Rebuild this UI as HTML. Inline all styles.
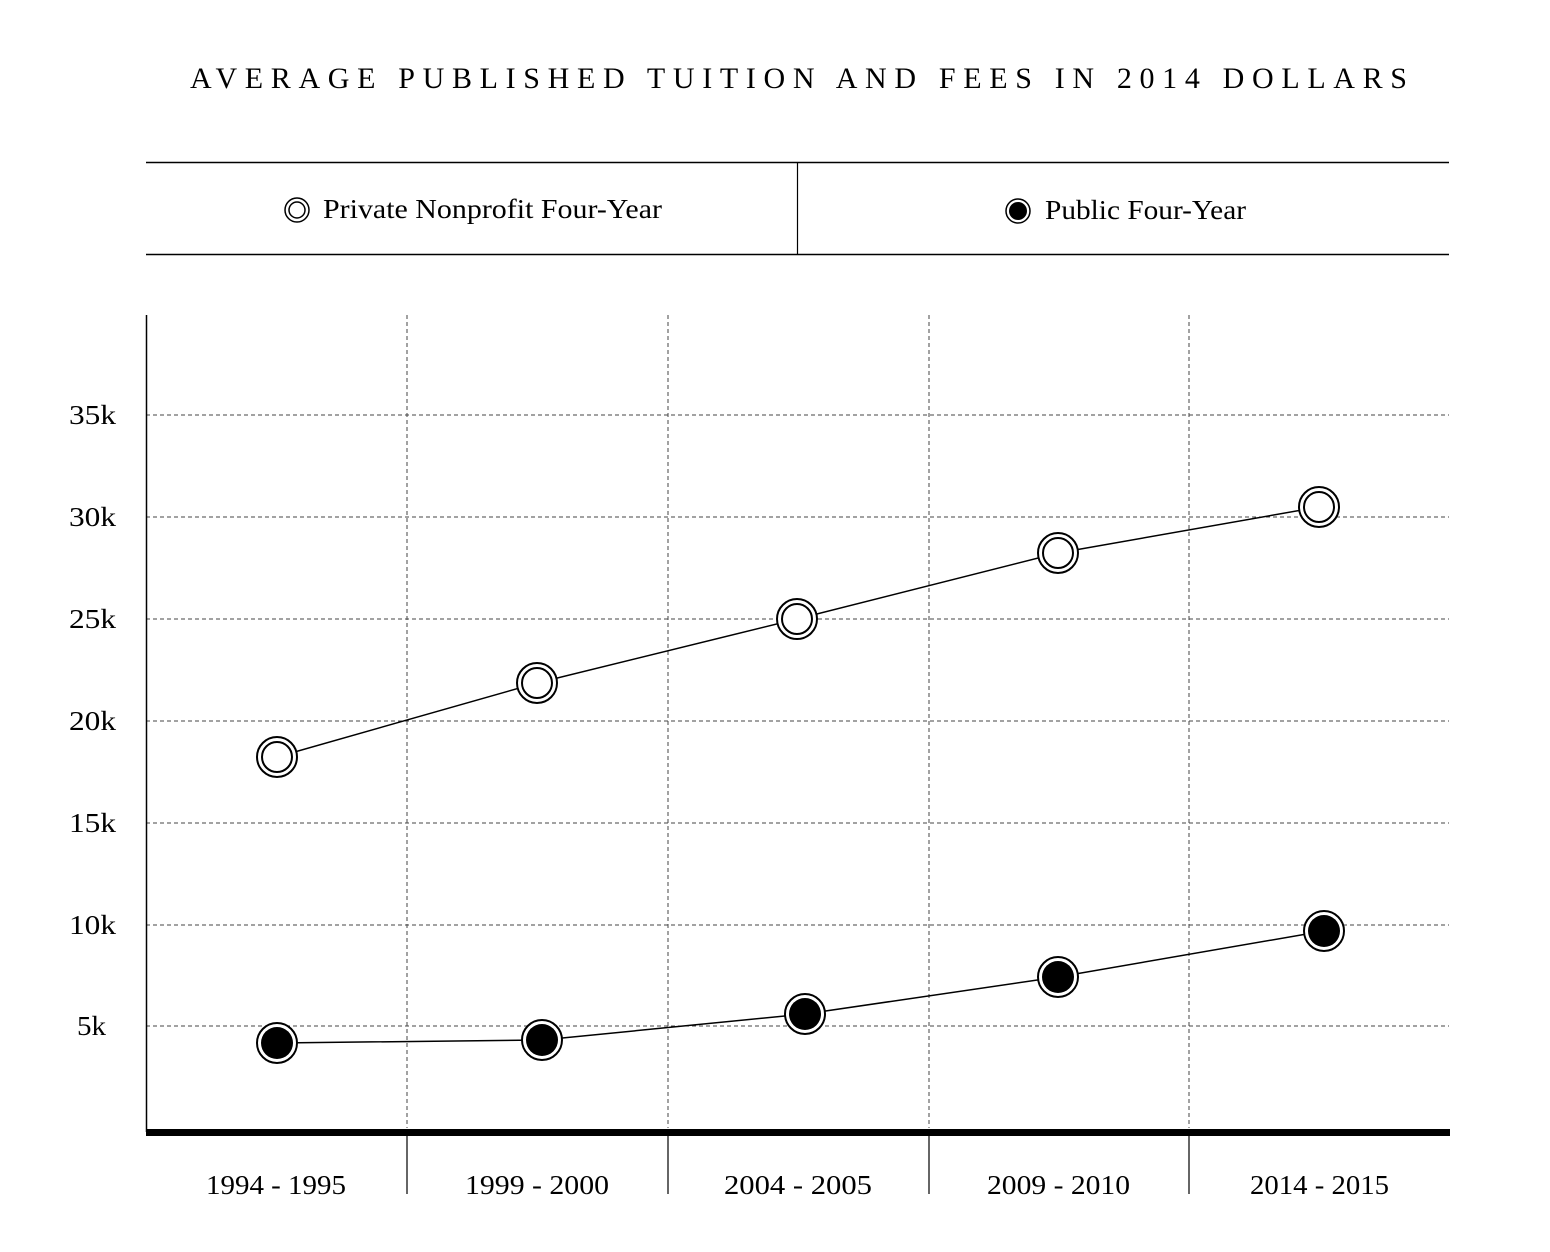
<!DOCTYPE html>
<html><head><style>
body{margin:0;background:#fff;}
svg{display:block;font-family:"Liberation Serif",serif;}
</style></head><body>
<svg width="1550" height="1252" viewBox="0 0 1550 1252" xmlns="http://www.w3.org/2000/svg">
<text x="190" y="88" font-size="30" textLength="1217" lengthAdjust="spacing" fill="#000">AVERAGE PUBLISHED TUITION AND FEES IN 2014 DOLLARS</text>
<line x1="146" y1="162.5" x2="1449" y2="162.5" stroke="#000" stroke-width="1.5"/>
<line x1="146" y1="254.5" x2="1449" y2="254.5" stroke="#000" stroke-width="1.5"/>
<line x1="797.5" y1="162" x2="797.5" y2="255" stroke="#000" stroke-width="1.2"/>
<circle cx="297" cy="210" r="12" fill="#fff" stroke="#000" stroke-width="1.5"/>
<circle cx="297" cy="210" r="8" fill="#fff" stroke="#000" stroke-width="1.5"/>
<text x="323" y="218" font-size="27" textLength="339" lengthAdjust="spacingAndGlyphs">Private Nonprofit Four-Year</text>
<circle cx="1018" cy="211" r="12" fill="#fff" stroke="#000" stroke-width="1.5"/>
<circle cx="1018" cy="211" r="9" fill="#000"/>
<text x="1045" y="219" font-size="27" textLength="201" lengthAdjust="spacingAndGlyphs">Public Four-Year</text>
<g stroke="#444" stroke-width="1" stroke-dasharray="4,3">
<line x1="146" y1="415" x2="1449" y2="415"/>
<line x1="146" y1="517" x2="1449" y2="517"/>
<line x1="146" y1="619" x2="1449" y2="619"/>
<line x1="146" y1="721" x2="1449" y2="721"/>
<line x1="146" y1="823" x2="1449" y2="823"/>
<line x1="146" y1="925" x2="1449" y2="925"/>
<line x1="146" y1="1026" x2="1449" y2="1026"/>
<line x1="407" y1="315" x2="407" y2="1128"/>
<line x1="668" y1="315" x2="668" y2="1128"/>
<line x1="929" y1="315" x2="929" y2="1128"/>
<line x1="1189" y1="315" x2="1189" y2="1128"/>
</g>
<line x1="146.5" y1="315" x2="146.5" y2="1132" stroke="#000" stroke-width="1.5"/>
<rect x="146" y="1129" width="1304" height="7" fill="#000"/>
<g stroke="#000" stroke-width="1.2">
<line x1="407" y1="1135" x2="407" y2="1194"/>
<line x1="668" y1="1135" x2="668" y2="1194"/>
<line x1="929" y1="1135" x2="929" y2="1194"/>
<line x1="1189" y1="1135" x2="1189" y2="1194"/>
</g>
<g font-size="27">
<text x="69" y="424" textLength="47" lengthAdjust="spacingAndGlyphs">35k</text>
<text x="69" y="526" textLength="47" lengthAdjust="spacingAndGlyphs">30k</text>
<text x="69" y="628" textLength="47" lengthAdjust="spacingAndGlyphs">25k</text>
<text x="69" y="730" textLength="47" lengthAdjust="spacingAndGlyphs">20k</text>
<text x="69" y="832" textLength="47" lengthAdjust="spacingAndGlyphs">15k</text>
<text x="69" y="934" textLength="47" lengthAdjust="spacingAndGlyphs">10k</text>
<text x="77" y="1035" textLength="29" lengthAdjust="spacingAndGlyphs">5k</text>
</g>
<g font-size="27">
<text x="206" y="1194" textLength="140" lengthAdjust="spacingAndGlyphs">1994 - 1995</text>
<text x="465" y="1194" textLength="144" lengthAdjust="spacingAndGlyphs">1999 - 2000</text>
<text x="724" y="1194" textLength="148" lengthAdjust="spacingAndGlyphs">2004 - 2005</text>
<text x="987" y="1194" textLength="143" lengthAdjust="spacingAndGlyphs">2009 - 2010</text>
<text x="1250" y="1194" textLength="139" lengthAdjust="spacingAndGlyphs">2014 - 2015</text>
</g>
<polyline points="277,757 537,683 797,619 1058,553 1319,507" fill="none" stroke="#000" stroke-width="1.5"/>
<polyline points="277,1043 542,1040 805,1014 1058,977 1324,931" fill="none" stroke="#000" stroke-width="1.5"/>
<g fill="#fff" stroke="#000" stroke-width="2">
<circle cx="277" cy="757" r="20"/><circle cx="277" cy="757" r="15"/>
<circle cx="537" cy="683" r="20"/><circle cx="537" cy="683" r="15"/>
<circle cx="797" cy="619" r="20"/><circle cx="797" cy="619" r="15"/>
<circle cx="1058" cy="553" r="20"/><circle cx="1058" cy="553" r="15"/>
<circle cx="1319" cy="507" r="20"/><circle cx="1319" cy="507" r="15"/>
<circle cx="277" cy="1043" r="20"/><circle cx="542" cy="1040" r="20"/>
<circle cx="805" cy="1014" r="20"/><circle cx="1058" cy="977" r="20"/>
<circle cx="1324" cy="931" r="20"/>
</g>
<g fill="#000">
<circle cx="277" cy="1043" r="16"/><circle cx="542" cy="1040" r="16"/>
<circle cx="805" cy="1014" r="16"/><circle cx="1058" cy="977" r="16"/>
<circle cx="1324" cy="931" r="16"/>
</g>
</svg>
</body></html>
